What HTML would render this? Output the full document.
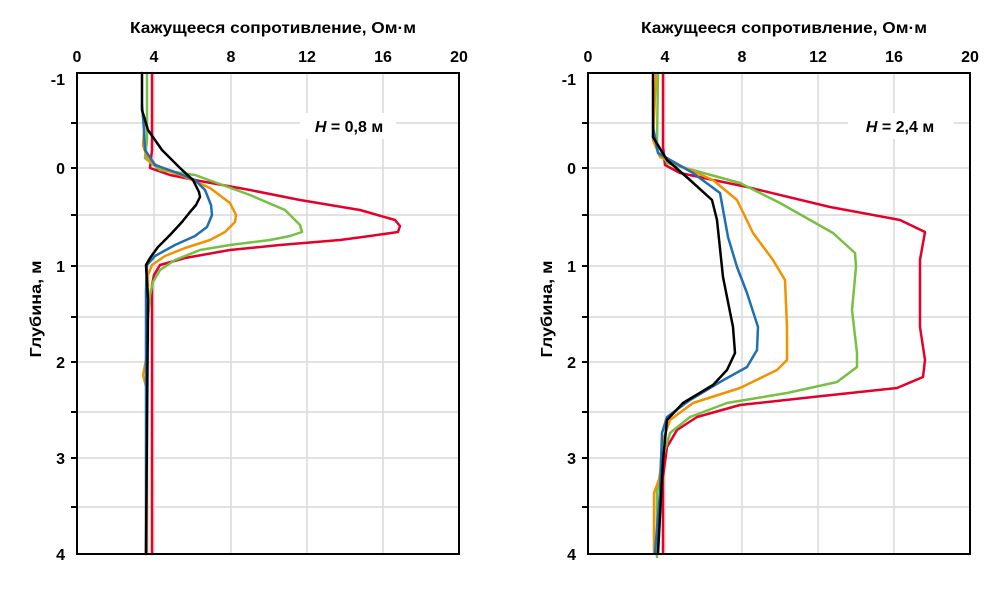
<!DOCTYPE html>
<html><head><meta charset="utf-8"><style>
html,body{margin:0;padding:0;background:#fff}
svg text{font-family:"Liberation Sans",sans-serif;font-weight:bold;fill:#000}
</style></head><body>
<svg width="1008" height="589" viewBox="0 0 1008 589" xmlns="http://www.w3.org/2000/svg">
<defs>
<g id="grid">
<g stroke="#d9d9d9" stroke-width="1.5">
<line x1="0" y1="123" x2="382" y2="123"/><line x1="0" y1="168" x2="382" y2="168"/>
<line x1="0" y1="215" x2="382" y2="215"/><line x1="0" y1="266" x2="382" y2="266"/>
<line x1="0" y1="317" x2="382" y2="317"/><line x1="0" y1="362" x2="382" y2="362"/>
<line x1="0" y1="412" x2="382" y2="412"/><line x1="0" y1="458" x2="382" y2="458"/>
<line x1="0" y1="507" x2="382" y2="507"/>
<line x1="77" y1="73" x2="77" y2="554"/><line x1="154" y1="73" x2="154" y2="554"/>
<line x1="230" y1="73" x2="230" y2="554"/><line x1="306" y1="73" x2="306" y2="554"/>
</g>
<g stroke="#000" stroke-width="2">
<line x1="-6" y1="123" x2="0" y2="123"/><line x1="-6" y1="168" x2="0" y2="168"/>
<line x1="-6" y1="215" x2="0" y2="215"/><line x1="-6" y1="266" x2="0" y2="266"/>
<line x1="-6" y1="317" x2="0" y2="317"/><line x1="-6" y1="362" x2="0" y2="362"/>
<line x1="-6" y1="412" x2="0" y2="412"/><line x1="-6" y1="458" x2="0" y2="458"/>
<line x1="-6" y1="507" x2="0" y2="507"/>
</g>
<g font-size="16" text-anchor="middle">
<text x="0" y="62">0</text><text x="77" y="62">4</text><text x="154" y="62">8</text>
<text x="230" y="62">12</text><text x="306" y="62">16</text><text x="382" y="62">20</text>
<text x="196" y="33" textLength="286" lengthAdjust="spacingAndGlyphs">Кажущееся сопротивление,  Ом·м</text>
</g>
<g font-size="16" text-anchor="end">
<text x="-12" y="85">-1</text><text x="-12" y="174">0</text><text x="-12" y="272">1</text>
<text x="-12" y="368">2</text><text x="-12" y="464">3</text><text x="-12" y="560">4</text>
</g>
<text font-size="16" transform="translate(-36,309) rotate(-90)" text-anchor="middle" textLength="97" lengthAdjust="spacingAndGlyphs">Глубина,  м</text>
</g>
</defs>
<g transform="translate(77,0)"><use href="#grid"/></g>
<g transform="translate(588,0)"><use href="#grid"/></g>
<rect x="300" y="113" width="96" height="26" fill="#fff"/>
<text x="349" y="132" font-size="16" text-anchor="middle"><tspan font-style="italic">H</tspan> = 0,8 м</text>
<rect x="848" y="113" width="106" height="26" fill="#fff"/>
<text x="900" y="132" font-size="16" text-anchor="middle"><tspan font-style="italic">H</tspan> = 2,4 м</text>

<g fill="none" stroke-width="2.5" stroke-linejoin="round" stroke-linecap="round">
<polyline stroke="#e4002b" points="152,73 152,150 150,168 170,175 200,181 250,190 300,200 360,210 395,220 400,226 398,232 370,236 340,240 280,245 230,250 185,258 160,265 154,275 152,285 152,554"/>
<polyline stroke="#76c043" points="147,73 147,140 145,158 160,170 195,175 250,195 285,210 300,225 302,232 290,236 270,240 230,245 200,250 175,260 160,270 153,282 150,295 147,330 146,554"/>
<polyline stroke="#f39200" points="145,118 143,145 148,160 165,170 183,176 210,188 230,203 236,215 235,222 225,232 210,240 185,248 165,256 152,265 148,275 148,340 146,360 143,375 147,390 147,554"/>
<polyline stroke="#1f6fb2" points="142,105 144,130 145,150 155,165 175,172 195,180 205,190 211,205 212,215 207,227 195,236 175,245 155,256 147,265 146,290 146,554"/>
<polyline stroke="#000" points="142,73 142,110 148,130 162,150 180,168 193,180 199,192 200,197 196,205 190,212 182,222 170,235 158,247 150,258 146,265 148,300 146,554"/>
<polyline stroke="#e4002b" points="663,73 663,147 665,165 680,173 747,187 830,207 900,220 925,232 920,260 920,327 925,360 923,377 897,388 813,397 740,405 697,417 677,430 667,447 663,477 663,553"/>
<polyline stroke="#76c043" points="658,73 657,143 667,163 740,183 780,203 833,233 855,253 856,267 852,310 857,353 857,367 837,382 787,393 727,403 690,417 670,433 662,460 657,493 657,557"/>
<polyline stroke="#f39200" points="656,73 653,140 660,157 713,180 737,200 753,233 773,260 785,280 787,327 787,360 777,370 740,388 693,403 670,420 662,443 660,477 654,493 654,553"/>
<polyline stroke="#1f6fb2" points="653,127 658,153 693,173 720,193 728,237 737,267 747,293 758,327 757,350 747,367 720,382 690,400 667,417 662,433 660,493 655,553"/>
<polyline stroke="#000" points="653,73 653,137 667,160 690,180 712,200 717,220 723,277 733,327 735,353 727,370 713,385 683,403 667,420 663,460 658,553"/>
</g>
<rect x="77" y="73" width="382" height="481" fill="none" stroke="#000" stroke-width="2"/>
<rect x="588" y="73" width="382" height="481" fill="none" stroke="#000" stroke-width="2"/>
</svg>
</body></html>
